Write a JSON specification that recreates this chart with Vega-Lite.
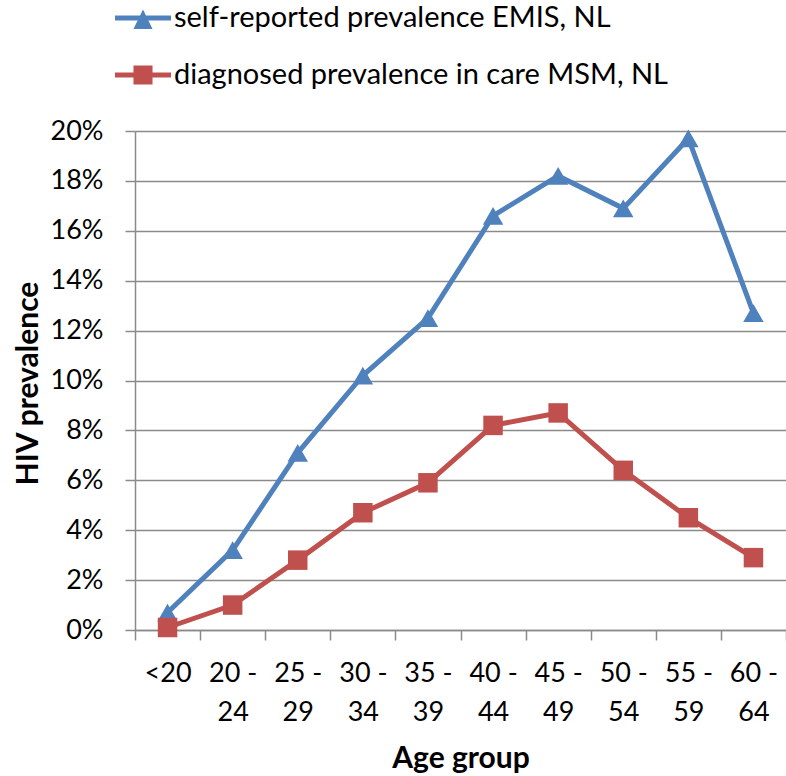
{
  "$schema": "https://vega.github.io/schema/vega-lite/v6.json",
  "autosize": {"type": "none"},
  "padding": {"left": 135, "top": 131, "right": 0, "bottom": 146},
  "width": 651,
  "height": 499,
  "background": "white",
  "config": {
    "font": "Lato",
    "view": {"stroke": null},
    "axis": {"labelFont": "Lato", "titleFont": "Lato", "labelColor": "#000000", "titleColor": "#000000"}
  },
  "data": {
    "values": [
      {"age": "<20", "series": "self-reported prevalence EMIS, NL", "value": 0.007},
      {"age": "20 - 24", "series": "self-reported prevalence EMIS, NL", "value": 0.032},
      {"age": "25 - 29", "series": "self-reported prevalence EMIS, NL", "value": 0.071},
      {"age": "30 - 34", "series": "self-reported prevalence EMIS, NL", "value": 0.102},
      {"age": "35 - 39", "series": "self-reported prevalence EMIS, NL", "value": 0.125},
      {"age": "40 - 44", "series": "self-reported prevalence EMIS, NL", "value": 0.166},
      {"age": "45 - 49", "series": "self-reported prevalence EMIS, NL", "value": 0.182},
      {"age": "50 - 54", "series": "self-reported prevalence EMIS, NL", "value": 0.169},
      {"age": "55 - 59", "series": "self-reported prevalence EMIS, NL", "value": 0.197},
      {"age": "60 - 64", "series": "self-reported prevalence EMIS, NL", "value": 0.127},
      {"age": "<20", "series": "diagnosed prevalence in care MSM, NL", "value": 0.001},
      {"age": "20 - 24", "series": "diagnosed prevalence in care MSM, NL", "value": 0.010},
      {"age": "25 - 29", "series": "diagnosed prevalence in care MSM, NL", "value": 0.028},
      {"age": "30 - 34", "series": "diagnosed prevalence in care MSM, NL", "value": 0.047},
      {"age": "35 - 39", "series": "diagnosed prevalence in care MSM, NL", "value": 0.059},
      {"age": "40 - 44", "series": "diagnosed prevalence in care MSM, NL", "value": 0.082},
      {"age": "45 - 49", "series": "diagnosed prevalence in care MSM, NL", "value": 0.087},
      {"age": "50 - 54", "series": "diagnosed prevalence in care MSM, NL", "value": 0.064},
      {"age": "55 - 59", "series": "diagnosed prevalence in care MSM, NL", "value": 0.045},
      {"age": "60 - 64", "series": "diagnosed prevalence in care MSM, NL", "value": 0.029}
    ]
  },
  "encoding": {
    "x": {
      "field": "age", "type": "ordinal", "sort": null,
      "scale": {"type": "band", "paddingInner": 0, "paddingOuter": 0},
      "axis": {
        "title": "Age group", "titleFontSize": 30, "titleFontWeight": "bold",
        "titleBaseline": "alphabetic", "titleY": 137,
        "labelAngle": 0, "labelFontSize": 27, "labelBaseline": "alphabetic",
        "labelPadding": 41, "labelLineHeight": 39,
        "labelExpr": "split(replace(datum.label, ' - ', ' -|'), '|')",
        "tickBand": "extent", "tickSize": 10, "tickColor": "#8a8a8a", "tickWidth": 1.5,
        "domainColor": "#8a8a8a", "domainWidth": 1.5, "grid": false
      }
    },
    "y": {
      "field": "value", "type": "quantitative",
      "scale": {"domain": [0, 0.2], "nice": false},
      "axis": {
        "title": "HIV prevalence", "titleFontSize": 30, "titleFontWeight": "bold",
        "titleX": -107, "titleY": 252, "titleAngle": -90, "titleBaseline": "middle", "titleAlign": "center",
        "format": ".0%", "values": [0, 0.02, 0.04, 0.06, 0.08, 0.1, 0.12, 0.14, 0.16, 0.18, 0.2],
        "labelFontSize": 27, "labelPadding": 22, "labelBaseline": "middle",
        "tickSize": 10, "tickColor": "#8a8a8a", "tickWidth": 1.5,
        "grid": true, "gridColor": "#8a8a8a", "gridWidth": 1.5,
        "domainColor": "#8a8a8a", "domainWidth": 1.5
      }
    },
    "color": {
      "field": "series", "type": "nominal",
      "scale": {
        "domain": ["self-reported prevalence EMIS, NL", "diagnosed prevalence in care MSM, NL"],
        "range": ["#4F81BD", "#C0504D"]
      },
      "legend": {
        "title": null, "orient": "none", "legendX": -20, "legendY": -141,
        "padding": 0, "rowPadding": 14, "labelFontSize": 29, "labelFont": "Lato", "labelColor": "#000000",
        "labelOffset": 3, "symbolSize": 3136, "labelLimit": 0,
        "encode": {
          "symbols": {
            "update": {
              "shape": {"signal": "datum.value === 'self-reported prevalence EMIS, NL' ? 'M-1,-0.09H1V0.09H-1ZM0,-0.3L0.34,0.39L-0.34,0.39Z' : 'M-1,-0.09H1V0.09H-1ZM-0.34,-0.34H0.34V0.34H-0.34Z'"},
              "fill": {"signal": "datum.value === 'self-reported prevalence EMIS, NL' ? '#4F81BD' : '#C0504D'"},
              "fillOpacity": {"value": 1},
              "stroke": {"value": "transparent"},
              "strokeWidth": {"value": 0},
              "size": {"value": 3136}
            }
          }
        }
      }
    }
  },
  "layer": [
    {"mark": {"type": "line", "strokeWidth": 5}},
    {
      "transform": [{"filter": "datum.series === 'self-reported prevalence EMIS, NL'"}],
      "mark": {"type": "point", "filled": true, "size": 420, "opacity": 1, "shape": "triangle-up"}
    },
    {
      "transform": [{"filter": "datum.series === 'diagnosed prevalence in care MSM, NL'"}],
      "mark": {"type": "point", "filled": true, "size": 380, "opacity": 1, "shape": "square"}
    }
  ]
}
